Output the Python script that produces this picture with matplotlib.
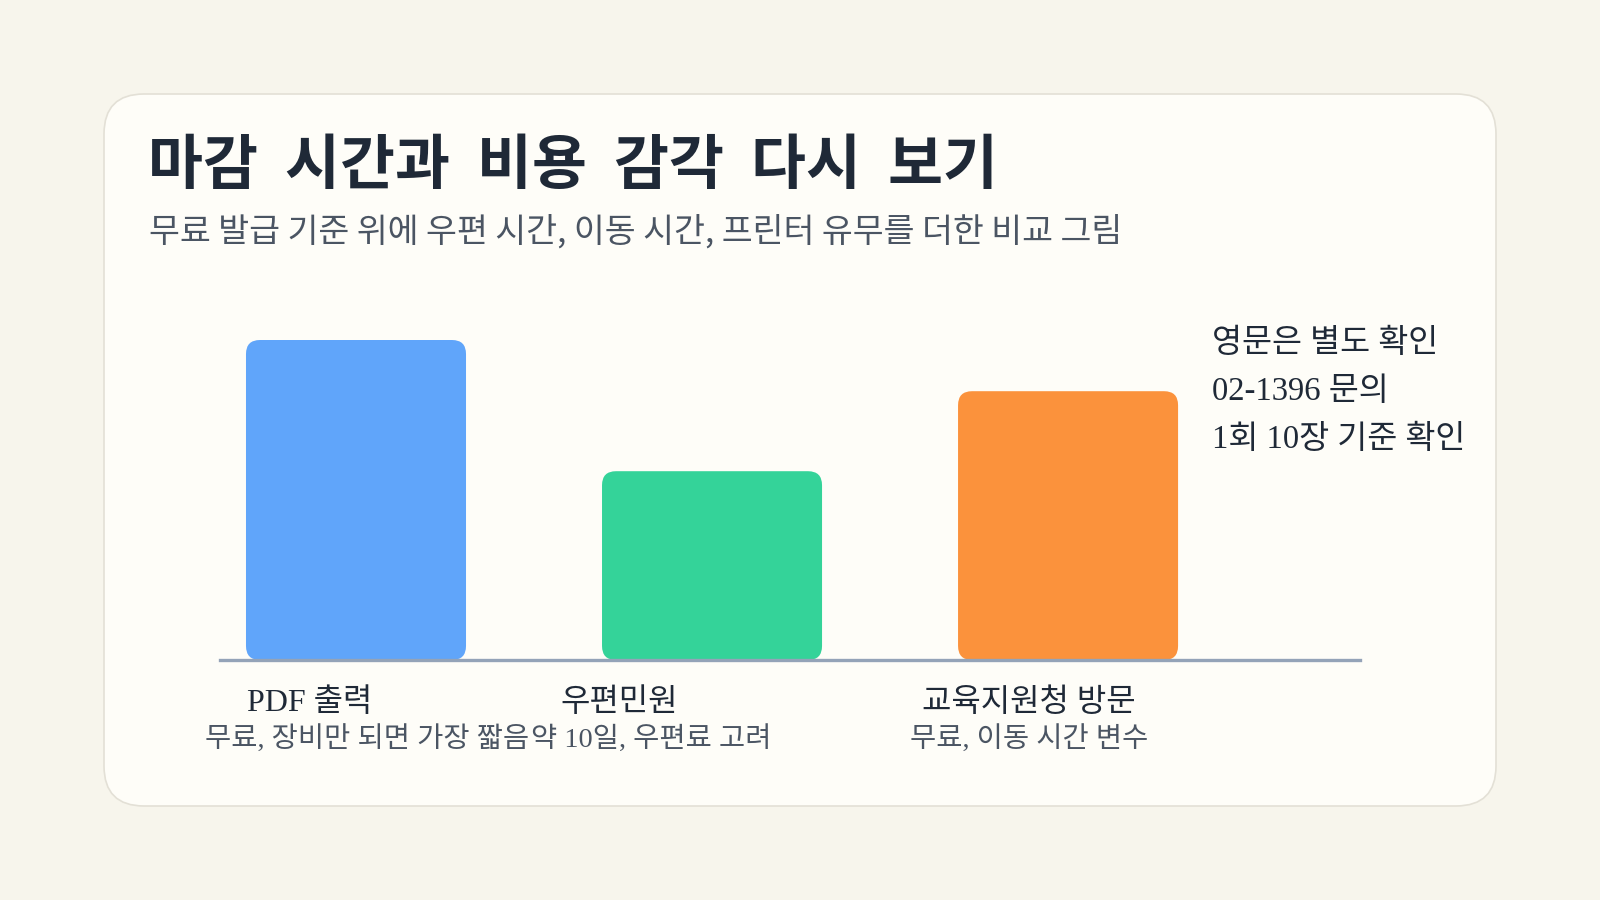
import numpy as np
import matplotlib.pyplot as plt
from matplotlib.patches import FancyBboxPatch

# ─────────────────────────────────────────────
# DATA
# ─────────────────────────────────────────────
title = "마감  시간과  비용  감각  다시  보기"
subtitle = "무료 발급 기준 위에 우편 시간, 이동 시간, 프린터 유무를 더한 비교 그림"

categories = ["PDF 출력", "우편민원", "교육지원청 방문"]
sublabels = ["무료, 장비만 되면 가장 짧음", "약 10일, 우편료 고려", "무료, 이동 시간 변수"]
values = [100, 59, 84]          # relative bar heights (no visible axis)
colors = ["#60a5fa", "#34d399", "#fb923c"]

notes = ["영문은 별도 확인", "02-1396 문의", "1회 10장 기준 확인"]

# label offsets from bar centre (in category units), as drawn in the reference
label_dx = [-0.13, -0.26, -0.11]
sub_dx = [0.03, -0.17, -0.11]

BG = "#f7f5ec"
CARD = "#fefdf8"
DARK = "#1f2937"
MUTED = "#4b5563"
SANS = ["Noto Sans CJK KR", "DejaVu Sans"]
MIXED = ["Liberation Serif", "Noto Sans CJK KR", "DejaVu Sans"]

W, H = 1600, 900


def fx(x):
    return x / W


def fy(y):
    return 1 - y / H


fig = plt.figure(figsize=(16, 9), dpi=100, facecolor=BG)

# ── card (behind everything) ──
card = FancyBboxPatch((fx(104), fy(806)), fx(1392), (806 - 94) / H,
                      boxstyle="round,pad=0,rounding_size=0.025",
                      mutation_aspect=W / H,
                      transform=fig.transFigure, facecolor=CARD,
                      edgecolor="#e3e0d6", linewidth=1.2, zorder=-5)
fig.patches.append(card)

# ── title / subtitle ──
fig.text(fx(148), fy(184), title, fontsize=43, fontweight="bold",
         color=DARK, family=SANS, va="baseline")
fig.text(fx(149), fy(242), subtitle, fontsize=24.2, color=MUTED,
         family=SANS, va="baseline")

# ── bar area ──
ax = fig.add_axes([fx(220), fy(660), fx(1140), 320 / H])
ax.set_xlim(-0.382, 2.82)
ax.set_ylim(0, 100)
ax.axis("off")
ax.set_zorder(1)

x = np.arange(len(categories))
bar_w = 0.618

# px -> data conversions for rounded corners
px_x = (2.82 + 0.382) / 1140
px_y = 100 / 320
radius_px = 14

for xi, v, c in zip(x, values, colors):
    p = FancyBboxPatch((xi - bar_w / 2, 0), bar_w, v,
                       boxstyle=f"round,pad=0,rounding_size={radius_px * px_x}",
                       mutation_aspect=px_y / px_x,
                       facecolor=c, edgecolor="none", zorder=2, clip_on=False)
    ax.add_patch(p)

ax.axhline(0, color="#94a3b8", linewidth=2.4, zorder=3, clip_on=False)

# ── category labels ──
for xi, lab, sub, dl, ds in zip(x, categories, sublabels, label_dx, sub_dx):
    ax.annotate(lab, (xi + dl, 0), xytext=(0, -51 * 0.72),
                textcoords="offset points", ha="center", va="baseline",
                fontsize=23, color=DARK, family=MIXED, annotation_clip=False)
    ax.annotate(sub, (xi + ds, 0), xytext=(0, -87 * 0.72),
                textcoords="offset points", ha="center", va="baseline",
                fontsize=20.5, color=MUTED, family=MIXED, annotation_clip=False)

# ── side notes ──
for i, n in enumerate(notes):
    fig.text(fx(1212), fy(352 + 48 * i), n, fontsize=23.5, color=DARK,
             family=MIXED, va="baseline")

fig.savefig("out.png", dpi=100, facecolor=BG)
